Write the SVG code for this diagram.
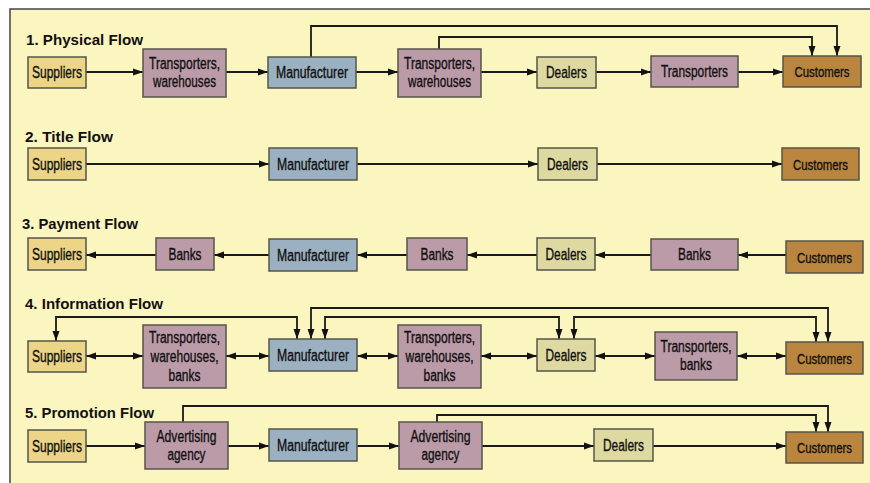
<svg xmlns="http://www.w3.org/2000/svg" width="870" height="483" viewBox="0 0 870 483">
<style>
.box{stroke:#55554a;stroke-width:1.5}
.sup{fill:#ECD586}.pur{fill:#BC9BA8}.man{fill:#9BB0C0}.dea{fill:#DDD9A0}.cus{fill:#B9853F}
.lbl{font-family:"Liberation Sans",Arial,sans-serif;font-size:16px;fill:#111;stroke:#111;stroke-width:0.35;text-anchor:middle}
.cl{font-size:15px}
.ttl{font-family:"Liberation Sans",Arial,sans-serif;font-size:15.5px;font-weight:bold;fill:#111}
.c{fill:none;stroke:#1a1a1a;stroke-width:1.8}
.a{marker-end:url(#ah)}
.d{marker-start:url(#ah);marker-end:url(#ah)}
</style>
<defs>
<marker id="ah" markerUnits="userSpaceOnUse" markerWidth="11" markerHeight="8" refX="10" refY="4" orient="auto-start-reverse"><path d="M0,0.5 L10,4 L0,7.5 z" fill="#111"/></marker>
</defs>
<rect x="0" y="0" width="870" height="483" fill="#ffffff"/>
<rect x="10" y="9" width="880" height="500" fill="#FBF5C0" stroke="#444" stroke-width="1.5"/>

<g id="titles">
<text class="ttl" x="26" y="44.5" textLength="117" lengthAdjust="spacingAndGlyphs">1. Physical Flow</text>
<text class="ttl" x="25" y="141.5" textLength="88" lengthAdjust="spacingAndGlyphs">2. Title Flow</text>
<text class="ttl" x="22" y="229" textLength="116" lengthAdjust="spacingAndGlyphs">3. Payment Flow</text>
<text class="ttl" x="25" y="309" textLength="138" lengthAdjust="spacingAndGlyphs">4. Information Flow</text>
<text class="ttl" x="25" y="418" textLength="129" lengthAdjust="spacingAndGlyphs">5. Promotion Flow</text>
</g>

<g id="connectors">
<path class="c a" d="M86,72 H143"/>
<path class="c a" d="M226,72 H268"/>
<path class="c a" d="M356,72 H398"/>
<path class="c a" d="M481,72 H537"/>
<path class="c a" d="M596,72 H651"/>
<path class="c a" d="M738,72 H783"/>
<path class="c a" d="M311,57 V26 H837 V56"/>
<path class="c a" d="M439,49 V37 H812 V56"/>
<path class="c a" d="M86,164 H269"/>
<path class="c a" d="M357,164 H538"/>
<path class="c a" d="M597,164 H782"/>
<path class="c a" d="M786,255 H738"/>
<path class="c a" d="M651,255 H595"/>
<path class="c a" d="M537,255 H467"/>
<path class="c a" d="M407,255 H357"/>
<path class="c a" d="M269,255 H214"/>
<path class="c a" d="M156,255 H86"/>
<path class="c d" d="M86,356 H143"/>
<path class="c d" d="M226,356 H269"/>
<path class="c d" d="M357,356 H398"/>
<path class="c d" d="M481,356 H537"/>
<path class="c d" d="M595,356 H655"/>
<path class="c d" d="M737,356 H786"/>
<path class="c d" d="M56,341 V317 H297 V339"/>
<path class="c d" d="M311,339 V308 H828 V342"/>
<path class="c d" d="M325,339 V317 H559 V339"/>
<path class="c d" d="M574,339 V317 H816 V342"/>
<path class="c a" d="M86,446 H145"/>
<path class="c a" d="M228,446 H269"/>
<path class="c a" d="M357,446 H399"/>
<path class="c a" d="M482,446 H594"/>
<path class="c a" d="M653,446 H786"/>
<path class="c a" d="M183,422 V406 H828 V432"/>
<path class="c a" d="M437,422 V415 H816 V432"/>
</g>

<g id="r1-suppliers"><rect class="box sup" x="28" y="57" width="58" height="31"/><text class="lbl" x="57" y="78" textLength="50" lengthAdjust="spacingAndGlyphs">Suppliers</text></g>
<g id="r1-transporters1"><rect class="box pur" x="143" y="49" width="83" height="48"/><text class="lbl" x="184.5" y="69" textLength="71" lengthAdjust="spacingAndGlyphs">Transporters,</text><text class="lbl" x="184.5" y="87" textLength="63" lengthAdjust="spacingAndGlyphs">warehouses</text></g>
<g id="r1-manufacturer"><rect class="box man" x="268" y="57" width="88" height="31"/><text class="lbl" x="312" y="78" textLength="72" lengthAdjust="spacingAndGlyphs">Manufacturer</text></g>
<g id="r1-transporters2"><rect class="box pur" x="398" y="49" width="83" height="48"/><text class="lbl" x="439.5" y="69" textLength="71" lengthAdjust="spacingAndGlyphs">Transporters,</text><text class="lbl" x="439.5" y="87" textLength="63" lengthAdjust="spacingAndGlyphs">warehouses</text></g>
<g id="r1-dealers"><rect class="box dea" x="537" y="57" width="59" height="31"/><text class="lbl" x="566.5" y="78" textLength="41" lengthAdjust="spacingAndGlyphs">Dealers</text></g>
<g id="r1-transporters3"><rect class="box pur" x="651" y="56" width="87" height="31"/><text class="lbl" x="694.5" y="77" textLength="67" lengthAdjust="spacingAndGlyphs">Transporters</text></g>
<g id="r1-customers"><rect class="box cus" x="783" y="56" width="78" height="31"/><text class="lbl cl" x="822" y="77" textLength="55" lengthAdjust="spacingAndGlyphs">Customers</text></g>

<g id="r2-suppliers"><rect class="box sup" x="28" y="148" width="58" height="32"/><text class="lbl" x="57" y="169.5" textLength="50" lengthAdjust="spacingAndGlyphs">Suppliers</text></g>
<g id="r2-manufacturer"><rect class="box man" x="269" y="148" width="88" height="32"/><text class="lbl" x="313" y="169.5" textLength="72" lengthAdjust="spacingAndGlyphs">Manufacturer</text></g>
<g id="r2-dealers"><rect class="box dea" x="538" y="148" width="59" height="32"/><text class="lbl" x="567.5" y="169.5" textLength="41" lengthAdjust="spacingAndGlyphs">Dealers</text></g>
<g id="r2-customers"><rect class="box cus" x="782" y="148" width="77" height="32"/><text class="lbl cl" x="820.5" y="169.5" textLength="55" lengthAdjust="spacingAndGlyphs">Customers</text></g>

<g id="r3-suppliers"><rect class="box sup" x="28" y="238" width="58" height="32"/><text class="lbl" x="57" y="259.5" textLength="50" lengthAdjust="spacingAndGlyphs">Suppliers</text></g>
<g id="r3-banks1"><rect class="box pur" x="156" y="238" width="58" height="32"/><text class="lbl" x="185" y="259.5" textLength="33" lengthAdjust="spacingAndGlyphs">Banks</text></g>
<g id="r3-manufacturer"><rect class="box man" x="269" y="239" width="88" height="32"/><text class="lbl" x="313" y="260.5" textLength="72" lengthAdjust="spacingAndGlyphs">Manufacturer</text></g>
<g id="r3-banks2"><rect class="box pur" x="407" y="238" width="60" height="32"/><text class="lbl" x="437" y="259.5" textLength="33" lengthAdjust="spacingAndGlyphs">Banks</text></g>
<g id="r3-dealers"><rect class="box dea" x="537" y="238" width="58" height="32"/><text class="lbl" x="566" y="259.5" textLength="41" lengthAdjust="spacingAndGlyphs">Dealers</text></g>
<g id="r3-banks3"><rect class="box pur" x="651" y="239" width="87" height="31"/><text class="lbl" x="694.5" y="260" textLength="33" lengthAdjust="spacingAndGlyphs">Banks</text></g>
<g id="r3-customers"><rect class="box cus" x="786" y="241" width="77" height="32"/><text class="lbl cl" x="824.5" y="262.5" textLength="55" lengthAdjust="spacingAndGlyphs">Customers</text></g>

<g id="r4-suppliers"><rect class="box sup" x="28" y="341" width="58" height="31"/><text class="lbl" x="57" y="362" textLength="50" lengthAdjust="spacingAndGlyphs">Suppliers</text></g>
<g id="r4-twb1"><rect class="box pur" x="143" y="325" width="83" height="63"/><text class="lbl" x="184.5" y="343" textLength="71" lengthAdjust="spacingAndGlyphs">Transporters,</text><text class="lbl" x="184.5" y="362" textLength="68" lengthAdjust="spacingAndGlyphs">warehouses,</text><text class="lbl" x="184.5" y="381" textLength="32" lengthAdjust="spacingAndGlyphs">banks</text></g>
<g id="r4-manufacturer"><rect class="box man" x="269" y="339" width="88" height="32"/><text class="lbl" x="313" y="360.5" textLength="72" lengthAdjust="spacingAndGlyphs">Manufacturer</text></g>
<g id="r4-twb2"><rect class="box pur" x="398" y="325" width="83" height="63"/><text class="lbl" x="439.5" y="343" textLength="71" lengthAdjust="spacingAndGlyphs">Transporters,</text><text class="lbl" x="439.5" y="362" textLength="68" lengthAdjust="spacingAndGlyphs">warehouses,</text><text class="lbl" x="439.5" y="381" textLength="32" lengthAdjust="spacingAndGlyphs">banks</text></g>
<g id="r4-dealers"><rect class="box dea" x="537" y="339" width="58" height="32"/><text class="lbl" x="566" y="360.5" textLength="41" lengthAdjust="spacingAndGlyphs">Dealers</text></g>
<g id="r4-tb"><rect class="box pur" x="655" y="332" width="82" height="48"/><text class="lbl" x="696" y="352" textLength="71" lengthAdjust="spacingAndGlyphs">Transporters,</text><text class="lbl" x="696" y="370" textLength="32" lengthAdjust="spacingAndGlyphs">banks</text></g>
<g id="r4-customers"><rect class="box cus" x="786" y="342" width="77" height="32"/><text class="lbl cl" x="824.5" y="363.5" textLength="55" lengthAdjust="spacingAndGlyphs">Customers</text></g>

<g id="r5-suppliers"><rect class="box sup" x="28" y="430" width="58" height="32"/><text class="lbl" x="57" y="451.5" textLength="50" lengthAdjust="spacingAndGlyphs">Suppliers</text></g>
<g id="r5-adv1"><rect class="box pur" x="145" y="422" width="83" height="47"/><text class="lbl" x="186.5" y="442" textLength="60" lengthAdjust="spacingAndGlyphs">Advertising</text><text class="lbl" x="186.5" y="460" textLength="38" lengthAdjust="spacingAndGlyphs">agency</text></g>
<g id="r5-manufacturer"><rect class="box man" x="269" y="429" width="88" height="32"/><text class="lbl" x="313" y="450.5" textLength="72" lengthAdjust="spacingAndGlyphs">Manufacturer</text></g>
<g id="r5-adv2"><rect class="box pur" x="399" y="422" width="83" height="47"/><text class="lbl" x="440.5" y="442" textLength="60" lengthAdjust="spacingAndGlyphs">Advertising</text><text class="lbl" x="440.5" y="460" textLength="38" lengthAdjust="spacingAndGlyphs">agency</text></g>
<g id="r5-dealers"><rect class="box dea" x="594" y="429" width="59" height="32"/><text class="lbl" x="623.5" y="450.5" textLength="41" lengthAdjust="spacingAndGlyphs">Dealers</text></g>
<g id="r5-customers"><rect class="box cus" x="786" y="432" width="77" height="31"/><text class="lbl cl" x="824.5" y="453" textLength="55" lengthAdjust="spacingAndGlyphs">Customers</text></g>
</svg>
